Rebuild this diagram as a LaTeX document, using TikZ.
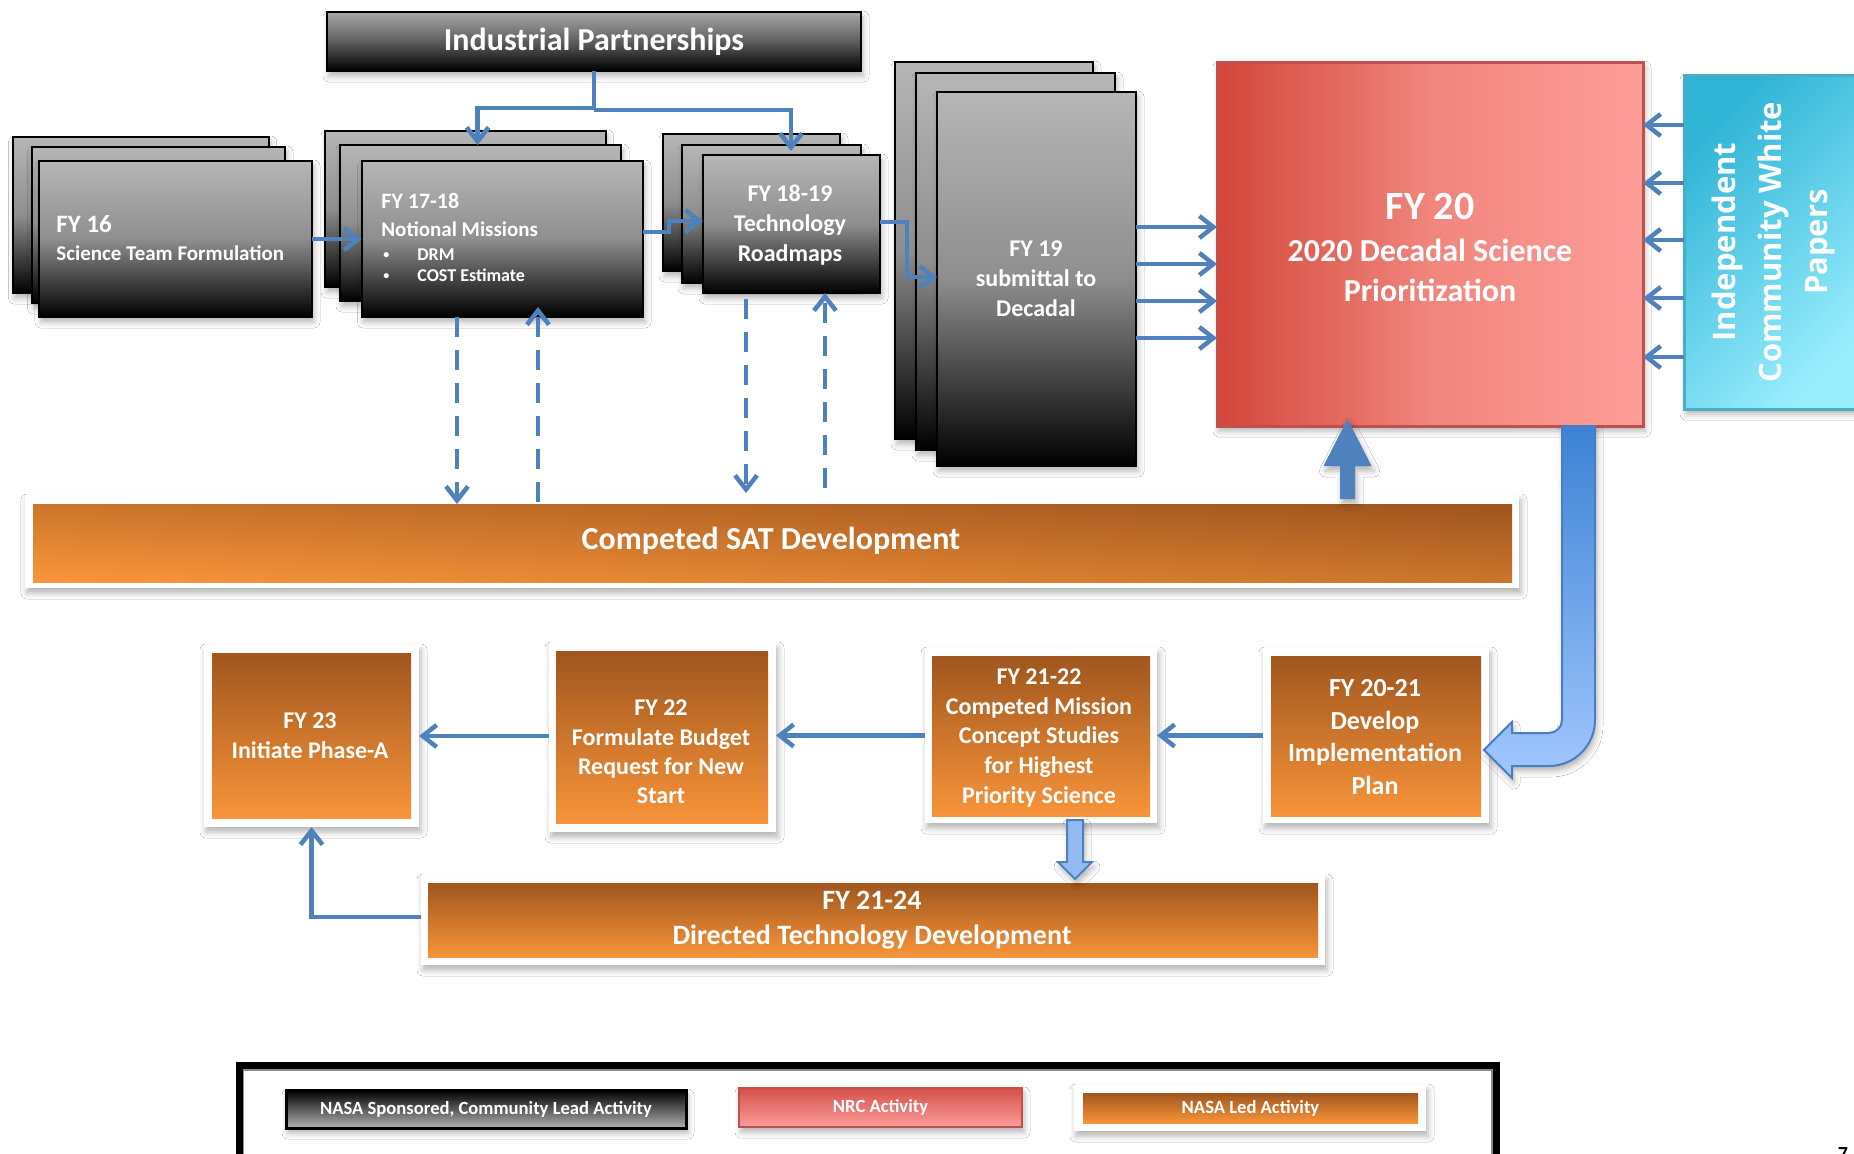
\documentclass[tikz,border=0pt]{standalone}
\usepackage{fontspec}
\setmainfont{Carlito}
\newfontfamily\osans{Open Sans}
\usetikzlibrary{arrows.meta,calc,shadows.blur}

\definecolor{arblue}{HTML}{4F81BD}
\definecolor{cardtop}{HTML}{B6B6B6}
\definecolor{cardmid}{HTML}{8E8E8E}
\definecolor{iptop}{HTML}{A8A8A8}
\definecolor{ipmid}{HTML}{5E5E5E}
\definecolor{ortop}{HTML}{A0561E}
\definecolor{orbot}{HTML}{F8943A}
\definecolor{redl}{HTML}{D3463A}
\definecolor{redm}{HTML}{F0857D}
\definecolor{redr}{HTML}{FE9E99}
\definecolor{redborder}{HTML}{C0504D}
\definecolor{cyantop}{HTML}{2FB4D6}
\definecolor{cyanbot}{HTML}{9AEEFE}
\definecolor{cyanborder}{HTML}{4BACC6}
\definecolor{bigtop}{HTML}{3C82D4}
\definecolor{bigbot}{HTML}{A2C7FF}
\definecolor{bigborder}{HTML}{4A7EBE}
\definecolor{lightblue}{HTML}{93BBF2}
\definecolor{lgred}{HTML}{D5504A}
\definecolor{lgpink}{HTML}{FB9D9A}

% bold Carlito at a given size / leading (in pt; 1px = 0.5pt)
\newcommand\pxf[2]{\fontsize{#1}{#2}\selectfont\bfseries}
% small list bullet
\newcommand\lbul{\hspace*{1pt}\makebox[17pt][l]{\raisebox{0.8pt}{\fontsize{6}{6}\selectfont\textbullet}}}
% rectangular node from its pixel corners: name, style, x1, y1, x2, y2
\newcommand\pxbox[6]{%
  \pgfmathsetmacro\pxcx{(#3+#5)/2}%
  \pgfmathsetmacro\pxcy{(#4+#6)/2}%
  \pgfmathsetmacro\pxw{(#5-#3)/2}%
  \pgfmathsetmacro\pxh{(#6-#4)/2}%
  \node[#2, minimum width=\pxw pt, minimum height=\pxh pt, inner sep=0pt, outer sep=0pt] (#1) at (\pxcx,\pxcy) {};}

\tikzset{
  softshadow/.style={blur shadow={shadow xshift=1pt, shadow yshift=-2.5pt, shadow blur radius=3pt, shadow opacity=30}},
  card/.style={draw=black, line width=1.1pt, top color=cardtop, bottom color=black, middle color=cardmid, softshadow},
  ipbox/.style={draw=black, line width=1.1pt, top color=iptop, bottom color=black, middle color=ipmid, softshadow},
  frame/.style={fill=white, draw=none, softshadow},
  orbox/.style={top color=ortop, bottom color=orbot, draw=none},
  satbox/.style={top color=ortop, bottom color=orbot, shading angle=-3, draw=none},
  redbox/.style={draw=redborder, line width=1.5pt, left color=redl, right color=redr, middle color=redm, softshadow},
  cyanbox/.style={draw=cyanborder, line width=1.5pt, top color=cyantop, bottom color=cyanbot, shading angle=45, softshadow},
  lgblack/.style={draw=black, line width=1.5pt, top color=black, bottom color=black!30, softshadow},
  lgredbox/.style={draw=redborder, line width=1pt, top color=lgred, bottom color=lgpink, softshadow},
  ar/.style={draw=arblue, line width=2.25pt, -{Straight Barb[length=7pt,width=11pt]}},
  dar/.style={ar, dash pattern=on 10pt off 6.5pt},
  txt/.style={text=white, inner sep=0pt, align=center},
}

\begin{document}
\begin{tikzpicture}[x=0.5pt,y=-0.5pt]
\useasboundingbox (0,0) rectangle (1854,1153);
\fill[white] (0,0) rectangle (1854,1153);

% ---- top row: stacked cards ----
\pxbox{b16}{card}{12.6}{137}{268.7}{293}
\pxbox{m16}{card}{31.6}{147}{285}{303}
\pxbox{f16}{card}{39}{161}{312}{317}

\pxbox{b1718}{card}{325}{131}{605.6}{287}
\pxbox{m1718}{card}{340}{145}{621}{301}
\pxbox{f1718}{card}{361.6}{161}{643}{317}

\pxbox{b1819}{card}{663}{134}{840}{271}
\pxbox{m1819}{card}{682}{145}{861}{283}
\pxbox{f1819}{card}{703}{155}{880}{293}

\pxbox{b19}{card}{895}{62}{1093}{439}
\pxbox{m19}{card}{916}{73}{1115}{450}
\pxbox{f19}{card}{937}{92}{1136}{466}

\pxbox{ip}{ipbox}{327}{12}{861}{71}

\pxbox{fy20}{redbox}{1217}{62}{1643}{426}
\pxbox{icwp}{cyanbox}{1684}{75}{1866}{409}

% ---- competed SAT bar ----
\pxbox{satf}{frame}{25}{495}{1519}{588}
\pxbox{sat}{satbox}{33}{504}{1512}{582}

% ---- lower row ----
\pxbox{f23w}{frame}{204}{645}{419}{827}
\pxbox{f23}{orbox}{212}{653}{411}{818}
\pxbox{f22w}{frame}{549}{643}{776}{832}
\pxbox{f22}{orbox}{556}{651}{768}{823}
\pxbox{f2122w}{frame}{925}{648}{1157}{823}
\pxbox{f2122}{orbox}{932}{656}{1150}{816}
\pxbox{f2021w}{frame}{1263}{648}{1489}{823}
\pxbox{f2021}{orbox}{1271}{656}{1481}{816}
\pxbox{f2124w}{frame}{421}{875}{1325}{965}
\pxbox{f2124}{orbox}{428}{883}{1318}{957}

% ---- legend ----
\pxbox{lgin}{draw=black!45, line width=0.75pt}{243.5}{1070}{1492}{1175}
\pxbox{lgframe}{draw=black, line width=3.5pt}{239.5}{1065.5}{1496.5}{1175}
\pxbox{lg1}{lgblack}{286}{1090}{686}{1128}
\pxbox{lg2}{lgredbox}{739}{1088}{1022}{1127}
\pxbox{lg3w}{frame}{1074}{1085}{1426}{1131}
\pxbox{lg3}{orbox}{1083}{1093}{1418}{1123}

% ---- connectors, top row ----
\draw[ar] (ip.south) -- ++(0,37) -| (477.6,0 |- m1718.north);
\draw[ar] ($(ip.south)+(0,39)$) -| ($(f1819.north)+(-0.5,-4)$);
\draw[ar] (f16.east) -- (f1718.west);
\draw[ar] (f1718.east |- 0,232) -| (669,221) -- (f1819.west |- 0,221);
\draw[ar] (f1819.east |- 0,222) -| (907,277) -- (f19.west |- 0,277);
\foreach \yy in {227,264,301,338}
  \draw[ar] (f19.east |- 0,\yy) -- (fy20.west |- 0,\yy);
\foreach \yy in {125,183,240,298,357}
  \draw[ar] (icwp.west |- 0,\yy) -- (fy20.east |- 0,\yy);

% dashed exchanges with the SAT bar
\draw[dar] (457,0 |- f1718.south) -- (457,0 |- sat.north);
\draw[dar] ($(538,0 |- sat.north)+(0,-2)$) -- ($(538,0 |- f1718.south)+(0,-10)$);
\draw[dar] ($(746,0 |- f1819.south)+(0,6)$) -- ($(746,0 |- satf.north)+(0,-2)$);
\draw[dar] ($(825,0 |- satf.north)+(0,-7)$) -- (825,0 |- f1819.south);

% block arrow from SAT bar up to the decadal box
\coordinate (ua) at (1347.5,0 |- satf.north);
\coordinate (ub) at (1347.5,0 |- fy20.south);
\fill[arblue, softshadow] ($(ua)+(-7.5,4)$) -- ($(ub)+(-7.5,40)$) -- ($(ub)+(-24,40)$)
  -- ($(ub)+(0,-7)$) -- ($(ub)+(24,40)$) -- ($(ub)+(7.5,40)$) -- ($(ua)+(7.5,4)$) -- cycle;

% bent block arrow from the decadal box to the implementation plan
\coordinate (ca) at (1562,0 |- fy20.south);
\coordinate (ct) at ($(f2021w.east)+(-5,14.5)$);
\path[draw=bigborder, line width=1pt, top color=bigtop, bottom color=bigbot, softshadow]
  (ca) -- ($(ct)+(78,-30)$) .. controls ($(ct)+(78,-22.8)$) and ($(ct)+(72.2,-17)$) .. ($(ct)+(65,-17)$)
  -- ($(ct)+(28,-17)$) -- ($(ct)+(28,-28)$) -- (ct) -- ($(ct)+(28,28)$) -- ($(ct)+(28,16)$)
  -- ($(ct)+(65,16)$) .. controls ($(ct)+(90.4,16)$) and ($(ct)+(111,-4.6)$) .. ($(ct)+(111,-30)$)
  -- ($(ca)+(33,0)$) -- cycle;

% ---- connectors, lower row ----
\draw[ar] (f2021w.west) -- (f2122w.east);
\draw[ar] (f2122w.west) -- (f2122w.west -| f22w.east);
\draw[ar] (f22w.west |- 0,736) -- (f23w.east |- 0,736);
\draw[ar] (f2124w.west |- 0,917) -| (f23w.south);

\coordinate (da) at (1075,0 |- f2122w.south);
\coordinate (db) at (1075,0 |- f2124w.north);
\fill[lightblue, draw=arblue, line width=1pt, softshadow] ($(da)+(-8,-3)$) -- ($(db)+(-8,-13)$) -- ($(db)+(-17,-13)$)
  -- ($(db)+(0,4)$) -- ($(db)+(17,-13)$) -- ($(db)+(8,-13)$) -- ($(da)+(8,-3)$) -- cycle;

% ---- texts ----
\node[txt, font=\pxf{16}{19}] (tind) at (ip) {Industrial Partnerships};
\node[txt, anchor=west, align=left, font=\pxf{10.5}{14}] (t16) at (56,238)
  {{\pxf{12.5}{14}FY 16}\\Science Team Formulation};
\node[txt, anchor=west, align=left, font=\pxf{9}{10.5}] (t1718) at (381,237)
  {{\pxf{11}{10.5}FY 17-18}\\[3.5pt]{\pxf{10.5}{10.5}Notional Missions}\\[1.5pt]%
   \lbul DRM\\\lbul COST Estimate};
\node[txt, font=\pxf{12}{15}] (t1819) at (790,225) {FY 18-19\\Technology\\Roadmaps};
\node[txt, font=\pxf{12}{15}] (t19) at (1036,279) {FY 19\\submittal to\\Decadal};
\node[txt, font=\pxf{16}{20}] (t20) at (1430,247)
  {{\pxf{20}{20}FY 20}\\[1pt]2020 Decadal Science\\Prioritization};
\node[txt, rotate=90, font={\osans\fontsize{15.5}{23}\selectfont\bfseries}] (ticwp) at (1773,242)
  {Independent\\Community White\\Papers};
\node[txt, font=\pxf{16}{19}] (tsat) at (771,541) {Competed SAT Development};
\node[txt, font=\pxf{12}{15}] (t23) at (310,736) {FY 23\\Initiate Phase-A};
\node[txt, font=\pxf{12}{14.7}] (t22) at (661,752) {FY 22\\Formulate Budget\\Request for New\\Start};
\node[txt, font=\pxf{12}{14.9}] (t2122) at (1039,738)
  {FY 21-22\\Competed Mission\\Concept Studies\\for Highest\\Priority Science};
\node[txt, font=\pxf{13}{16.2}] (t2021) at (1375,737) {FY 20-21\\Develop\\Implementation\\Plan};
\node[txt, font=\pxf{14}{17.5}] (t2124) at (872,920) {FY 21-24\\Directed Technology Development};

\node[txt, font=\pxf{9.3}{11}] (lt1) at (lg1) {NASA Sponsored, Community Lead Activity};
\node[txt, font=\pxf{9.3}{11}] (lt2) at (lg2) {NRC Activity};
\node[txt, font=\pxf{9.3}{11}] (lt3) at (lg3) {NASA Led Activity};

\node[inner sep=0pt, anchor=north, font=\pxf{10}{12}] (pgno) at (1843,1147) {7};
\end{tikzpicture}
\end{document}
